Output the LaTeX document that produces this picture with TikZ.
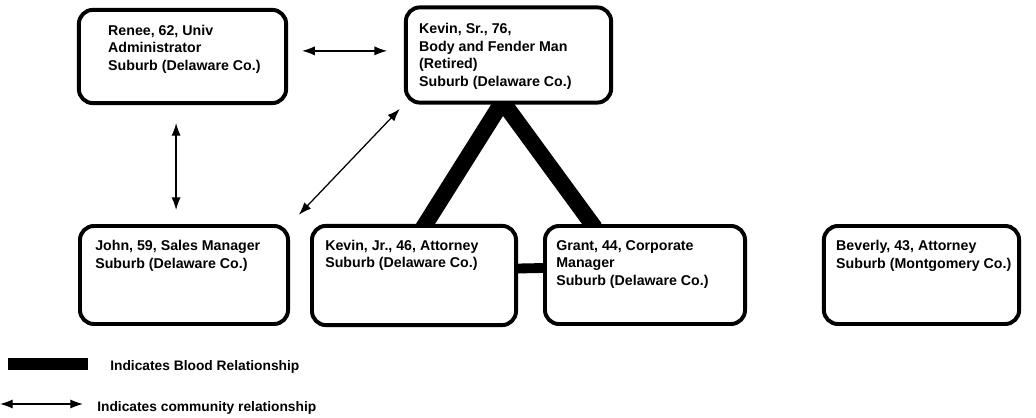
\documentclass[tikz,border=0pt]{standalone}
\usepackage{fontspec}
\setmainfont{Liberation Sans}
\usetikzlibrary{arrows.meta,positioning,calc,backgrounds}

\tikzset{
  person/.style={draw, line width=2.8pt, rounded corners=0.35cm, fill=white, inner sep=0pt},
  info/.style={anchor=north west, align=left, inner sep=0pt, font=\fontsize{10.1}{12.4}\selectfont\bfseries},
  blood/.style={line width=11.5pt},
  comm/.style={{Latex[length=9pt,width=6.5pt]}-{Latex[length=9pt,width=6.5pt]}, line width=0.9pt},
  legendtxt/.style={anchor=west, inner sep=0pt, font=\fontsize{9.8}{12}\selectfont\bfseries}
}

\begin{document}
\begin{tikzpicture}[x=0.025cm, y=-0.025cm]
\useasboundingbox (0,0) rectangle (1036,418);

% Family members
\node[person, minimum width=5.18cm, minimum height=2.33cm] (renee) at (182.5,56.5) {};
\node[person, minimum width=5.13cm, minimum height=2.38cm] (kevsr) at (508.5,55) {};
\node[person, minimum width=5.20cm, minimum height=2.45cm] (john) at (184,275) {};
\node[person, minimum width=5.10cm, minimum height=2.48cm] (kevjr) at (414,275.5) {};
\node[person, minimum width=5.00cm, minimum height=2.45cm] (grant) at (645,275) {};
\node[person, minimum width=4.88cm, minimum height=2.45cm] (beverly) at (921.5,275) {};

\node[info] (reneetxt) at ($(renee.north west)+(31,17)$) {Renee, 62, Univ\\Administrator\\Suburb (Delaware Co.)};
\node[info] (kevsrtxt) at ($(kevsr.north west)+(15,18)$) {Kevin, Sr., 76,\\Body and Fender Man\\(Retired)\\Suburb (Delaware Co.)};
\node[info] (johntxt) at ($(john.north west)+(17,16)$) {John, 59, Sales Manager\\Suburb (Delaware Co.)};
\node[info] (kevjrtxt) at ($(kevjr.north west)+(15,16)$) {Kevin, Jr., 46, Attorney\\Suburb (Delaware Co.)};
\node[info] (granttxt) at ($(grant.north west)+(13,16)$) {Grant, 44, Corporate\\Manager\\Suburb (Delaware Co.)};
\node[info] (beverlytxt) at ($(beverly.north west)+(14,16)$) {Beverly, 43, Attorney\\Suburb (Montgomery Co.)};

% Blood relationships
\coordinate (apex) at ($(kevsr.south)+(-6,-3)$);
\coordinate (jrtop) at ($(kevjr.north)+(9,4)$);
\coordinate (granttop) at ($(grant.north)+(-50,4)$);
\begin{scope}[on background layer]
  \draw[blood] (jrtop) -- (apex) -- (granttop);
  \draw[blood, line width=7pt] ($(kevjr.east)+(0,-7)$) -- ($(grant.west)+(0,-7)$);
\end{scope}

% Community relationships
\draw[comm, shorten <=0.35cm, shorten >=0.42cm] ([yshift=4pt]renee.east) -- ([yshift=4pt]renee.east -| kevsr.west);
\draw[comm, shorten <=0.45cm, shorten >=0.35cm] ([xshift=-0.16cm]renee.south) -- ([xshift=-0.16cm]renee.south |- john.north);
\draw[comm, shorten <=0.15cm, shorten >=0.32cm] (kevsr.south west) -- (john.north east);

% Legend
\coordinate (bloodA) at (8,364);
\coordinate (bloodB) at (88,364);
\draw[line width=8.5pt] (bloodA) -- (bloodB);
\node[legendtxt] (bloodtxt) at (110,367) {Indicates Blood Relationship};
\coordinate (commA) at (0,404);
\coordinate (commB) at (83,404);
\draw[comm] (commA) -- (commB);
\node[legendtxt] (commtxt) at (97,408) {Indicates community relationship};

\end{tikzpicture}
\end{document}
